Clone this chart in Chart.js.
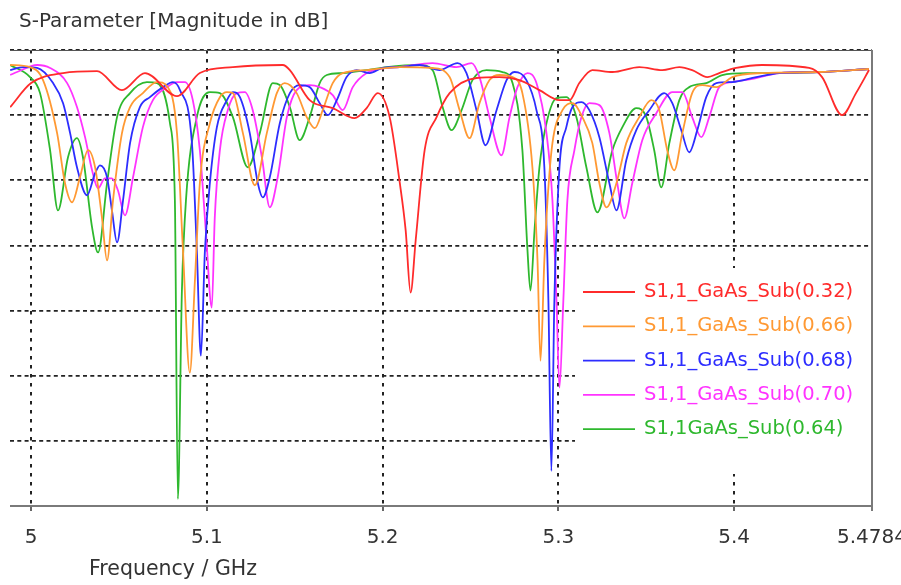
<!DOCTYPE html>
<html>
<head>
<meta charset="utf-8">
<script src="https://cdn.jsdelivr.net/npm/chart.js@4.4.1/dist/chart.umd.min.js"></script>
<style>
  html, body { margin: 0; padding: 0; background: #fff; }
  #wrap { width: 901px; height: 585px; position: relative; }
</style>
</head>
<body>
<div id="wrap"><canvas id="chart" width="901" height="585"></canvas></div>
<script>
// ---- Data : frequency in GHz, S11 in dB ----
const xTicks = [5, 5.1, 5.2, 5.3, 5.4, 5.4784];
const seriesLabels = [
  'S1,1_GaAs_Sub(0.32)',
  'S1,1_GaAs_Sub(0.66)',
  'S1,1_GaAs_Sub(0.68)',
  'S1,1_GaAs_Sub(0.70)',
  'S1,1GaAs_Sub(0.64)'
];
const seriesColors = ['#ff2b2b', '#ff9933', '#2d2dff', '#ff33ff', '#2eb82e'];

const freq032 = [4.9881, 5.0, 5.0182, 5.0375, 5.0517, 5.0648, 5.0830, 5.0960, 5.1148, 5.1432, 5.1472, 5.1585, 5.1716, 5.1841, 5.1909, 5.1972, 5.2040, 5.2097, 5.2131, 5.2159, 5.2188, 5.2239, 5.2307, 5.2381, 5.2534, 5.2665, 5.2778, 5.2892, 5.3006, 5.3063, 5.3119, 5.3193, 5.3307, 5.3460, 5.3591, 5.3688, 5.3761, 5.3847, 5.3915, 5.4011, 5.4159, 5.4426, 5.4500, 5.4614, 5.4693, 5.4767];
const db032 = [-4.38, -2.54, -1.77, -1.62, -3.08, -1.77, -3.54, -1.77, -1.31, -1.15, -1.54, -3.85, -4.46, -5.23, -4.46, -3.31, -5.15, -10.15, -13.85, -18.62, -14.6, -7.69, -5.15, -3.31, -2.15, -2.08, -2.31, -3.08, -3.85, -3.85, -2.54, -1.54, -1.69, -1.31, -1.54, -1.31, -1.54, -2.08, -1.77, -1.38, -1.15, -1.38, -2.08, -5.0, -3.31, -1.54];

const freq066 = [4.9881, 4.9994, 5.0068, 5.0148, 5.0193, 5.0233, 5.0278, 5.0324, 5.0364, 5.0403, 5.0432, 5.0466, 5.0517, 5.0563, 5.0636, 5.0716, 5.0778, 5.0830, 5.0864, 5.0903, 5.0932, 5.0960, 5.1017, 5.1074, 5.1114, 5.1148, 5.1205, 5.1273, 5.1341, 5.1398, 5.1443, 5.1511, 5.1568, 5.1614, 5.1659, 5.1716, 5.1773, 5.1909, 5.2097, 5.2284, 5.2381, 5.2438, 5.2494, 5.2551, 5.2608, 5.2665, 5.2739, 5.2795, 5.2852, 5.2881, 5.2898, 5.2920, 5.2938, 5.2966, 5.3023, 5.3080, 5.3136, 5.3193, 5.3233, 5.3273, 5.3330, 5.3386, 5.3460, 5.3528, 5.3574, 5.3619, 5.3659, 5.3705, 5.3761, 5.3818, 5.3898, 5.3989, 5.4159, 5.4483, 5.4767];
const db066 = [-1.15, -1.31, -2.31, -6.38, -10.23, -11.69, -9.77, -7.69, -9.0, -12.85, -16.15, -11.54, -6.38, -4.38, -3.31, -2.46, -2.85, -6.38, -15.38, -24.77, -17.69, -10.23, -5.62, -3.62, -3.23, -3.31, -6.38, -10.38, -6.38, -3.31, -2.54, -3.31, -5.15, -6.0, -4.62, -2.54, -1.77, -1.54, -1.31, -1.38, -2.08, -4.62, -6.77, -4.08, -2.31, -1.92, -2.08, -3.31, -9.0, -16.15, -23.85, -16.15, -11.54, -7.15, -4.62, -4.08, -5.15, -7.15, -10.23, -12.08, -10.23, -7.15, -5.15, -3.85, -4.62, -7.69, -9.23, -6.38, -3.31, -2.69, -2.85, -2.08, -1.77, -1.69, -1.46];

const freq068 = [4.9881, 4.9955, 5.0034, 5.0125, 5.0182, 5.0222, 5.0261, 5.0318, 5.0364, 5.0392, 5.0432, 5.0460, 5.0489, 5.0523, 5.0563, 5.0619, 5.0676, 5.0750, 5.0807, 5.0847, 5.0915, 5.0943, 5.0966, 5.0989, 5.1017, 5.1057, 5.1114, 5.1148, 5.1188, 5.1244, 5.1290, 5.1318, 5.1358, 5.1415, 5.1472, 5.1528, 5.1585, 5.1642, 5.1688, 5.1739, 5.1795, 5.1852, 5.1926, 5.2000, 5.2097, 5.2210, 5.2324, 5.2426, 5.2477, 5.2534, 5.2585, 5.2648, 5.2705, 5.2750, 5.2818, 5.2875, 5.2920, 5.2943, 5.2960, 5.2977, 5.3006, 5.3045, 5.3080, 5.3131, 5.3176, 5.3233, 5.3290, 5.3330, 5.3386, 5.3443, 5.3517, 5.3602, 5.3648, 5.3699, 5.3744, 5.3790, 5.3841, 5.3898, 5.3989, 5.4125, 5.4256, 5.4483, 5.4767];
const db068 = [-1.54, -1.31, -1.38, -2.54, -4.08, -6.38, -9.0, -11.15, -9.46, -8.85, -9.77, -12.31, -14.77, -11.54, -7.15, -4.38, -3.62, -2.85, -2.46, -3.08, -7.15, -15.38, -23.46, -15.38, -10.23, -5.92, -3.85, -3.23, -3.62, -6.38, -10.23, -11.31, -9.77, -5.62, -3.31, -2.69, -2.85, -4.08, -5.0, -3.85, -2.08, -1.54, -1.77, -1.38, -1.31, -1.15, -1.54, -1.0, -1.77, -4.62, -7.31, -4.62, -2.31, -1.69, -2.31, -4.62, -9.0, -19.23, -32.31, -19.23, -9.0, -5.92, -4.38, -4.0, -4.62, -6.69, -10.23, -12.31, -8.46, -6.15, -4.62, -3.31, -4.08, -6.15, -7.85, -6.15, -3.62, -2.54, -2.46, -2.08, -1.77, -1.69, -1.46];

const freq070 = [4.9881, 4.9920, 5.0034, 5.0108, 5.0205, 5.0261, 5.0307, 5.0347, 5.0381, 5.0420, 5.0460, 5.0494, 5.0534, 5.0580, 5.0636, 5.0693, 5.0773, 5.0830, 5.0875, 5.0920, 5.0960, 5.0994, 5.1028, 5.1045, 5.1074, 5.1119, 5.1170, 5.1216, 5.1261, 5.1313, 5.1358, 5.1403, 5.1455, 5.1511, 5.1585, 5.1642, 5.1716, 5.1773, 5.1830, 5.1909, 5.2023, 5.2097, 5.2284, 5.2420, 5.2506, 5.2551, 5.2608, 5.2676, 5.2722, 5.2767, 5.2824, 5.2875, 5.2932, 5.2966, 5.2989, 5.3006, 5.3028, 5.3051, 5.3091, 5.3131, 5.3176, 5.3233, 5.3290, 5.3335, 5.3375, 5.3420, 5.3477, 5.3557, 5.3648, 5.3705, 5.3761, 5.3813, 5.3858, 5.3915, 5.3989, 5.4125, 5.4256, 5.4483, 5.4767];
const db070 = [-1.92, -1.69, -1.15, -1.38, -2.54, -4.38, -6.69, -9.23, -10.62, -9.85, -9.85, -10.77, -12.69, -9.77, -5.92, -3.85, -2.85, -2.46, -2.46, -3.85, -7.69, -13.85, -19.77, -12.85, -7.69, -4.62, -3.31, -3.23, -4.62, -8.23, -12.08, -9.77, -5.15, -3.08, -2.69, -2.85, -3.46, -4.62, -2.85, -1.77, -1.38, -1.31, -1.0, -1.31, -1.0, -2.08, -5.15, -8.08, -5.15, -2.85, -1.77, -2.54, -6.38, -11.54, -19.23, -25.92, -19.23, -11.54, -7.69, -5.15, -4.08, -4.23, -6.38, -10.23, -12.92, -10.23, -6.92, -4.85, -3.23, -3.23, -5.15, -6.69, -5.15, -2.85, -2.46, -2.15, -1.77, -1.69, -1.46];

const freq064 = [4.9881, 4.9994, 5.0051, 5.0108, 5.0153, 5.0210, 5.0261, 5.0295, 5.0347, 5.0381, 5.0432, 5.0489, 5.0563, 5.0659, 5.0716, 5.0790, 5.0818, 5.0835, 5.0858, 5.0881, 5.0943, 5.1017, 5.1074, 5.1148, 5.1233, 5.1301, 5.1375, 5.1415, 5.1472, 5.1528, 5.1585, 5.1642, 5.1682, 5.1773, 5.1909, 5.2023, 5.2210, 5.2284, 5.2341, 5.2392, 5.2449, 5.2511, 5.2591, 5.2682, 5.2739, 5.2795, 5.2824, 5.2841, 5.2864, 5.2892, 5.2932, 5.2989, 5.3045, 5.3102, 5.3159, 5.3222, 5.3307, 5.3364, 5.3443, 5.3500, 5.3545, 5.3585, 5.3631, 5.3688, 5.3744, 5.3841, 5.3932, 5.4068, 5.4256, 5.4483, 5.4767];
const db064 = [-1.15, -2.08, -3.31, -7.69, -12.31, -8.23, -6.77, -8.23, -13.62, -15.54, -10.23, -5.15, -3.31, -2.46, -2.54, -5.62, -11.54, -34.46, -18.46, -11.54, -5.15, -3.23, -3.31, -5.15, -9.0, -6.38, -2.54, -2.69, -4.38, -6.92, -5.15, -2.54, -1.92, -1.77, -1.54, -1.31, -1.15, -1.54, -4.38, -6.15, -4.62, -2.31, -1.54, -1.69, -2.54, -7.69, -15.38, -18.46, -13.85, -9.0, -5.62, -3.69, -3.62, -5.15, -9.0, -12.46, -7.69, -5.92, -4.46, -5.15, -7.69, -10.54, -7.15, -3.85, -2.85, -2.54, -1.92, -1.77, -1.77, -1.69, -1.46];

const seriesFreqs = [freq032, freq066, freq068, freq070, freq064];
const seriesDbs = [db032, db066, db068, db070, db064];

const Y_MIN = -35, Y_MAX = 0, Y_STEP = 5;
const X_MIN = 4.988, X_MAX = 5.4784;

const FONT = '"DejaVu Sans", Verdana, sans-serif';

function toPoints(fs, ds) {
  return fs.map((f, i) => ({ x: f, y: ds[i] }));
}

function fmtTick(v) {
  return String(Math.round(v * 10000) / 10000);
}

// titre, labels, cadre et légende dessinés par-dessus
const decor = {
  id: 'decor',
  afterDraw(chart) {
    const { ctx, chartArea: a, scales: { x } } = chart;
    ctx.save();

    // cadre
    ctx.strokeStyle = '#555';
    ctx.lineWidth = 1;
    ctx.beginPath();
    ctx.moveTo(a.left, a.top + 0.5);
    ctx.lineTo(a.right, a.top + 0.5);
    ctx.stroke();
    ctx.strokeStyle = '#7a7a7a';
    ctx.lineWidth = 2;
    ctx.beginPath();
    ctx.moveTo(a.right, a.top);
    ctx.lineTo(a.right, a.bottom + 5);
    ctx.moveTo(a.left, a.bottom);
    ctx.lineTo(a.right + 1, a.bottom);
    ctx.stroke();

    // légende
    ctx.fillStyle = '#fff';
    ctx.fillRect(575, 268, a.right - 576, 206);
    ctx.font = '19.5px ' + FONT;
    ctx.textBaseline = 'middle';
    ctx.textAlign = 'left';
    seriesLabels.forEach((lbl, i) => {
      const yy = 292 + i * 34.3;
      ctx.strokeStyle = seriesColors[i];
      ctx.lineWidth = 1.8;
      ctx.beginPath();
      ctx.moveTo(583, yy);
      ctx.lineTo(635, yy);
      ctx.stroke();
      ctx.fillStyle = seriesColors[i];
      ctx.fillText(lbl, 644, yy);
    });

    // titre
    ctx.fillStyle = '#333';
    ctx.font = '20px ' + FONT;
    ctx.fillText('S-Parameter [Magnitude in dB]', 19, 22);

    // graduations X
    ctx.textAlign = 'center';
    ctx.font = '20px ' + FONT;
    xTicks.forEach(v => ctx.fillText(fmtTick(v), x.getPixelForValue(v), 538));
    ctx.font = '20.5px ' + FONT;
    ctx.fillText('Frequency / GHz', 173, 570);

    ctx.restore();
  }
};

new Chart(document.getElementById('chart'), {
  type: 'line',
  data: {
    datasets: seriesLabels.map((lbl, i) => ({
      label: lbl,
      data: toPoints(seriesFreqs[i], seriesDbs[i]),
      borderColor: seriesColors[i],
      borderWidth: 1.8,
      pointRadius: 0,
      cubicInterpolationMode: 'monotone',
      fill: false
    }))
  },
  options: {
    responsive: false,
    animation: false,
    layout: { padding: { left: 10, top: 50, right: 29, bottom: 74 } },
    plugins: { legend: { display: false }, tooltip: { enabled: false } },
    scales: {
      x: {
        type: 'linear',
        min: X_MIN,
        max: X_MAX,
        afterBuildTicks: s => { s.ticks = xTicks.map(v => ({ value: v })); },
        afterFit: s => { s.height = 5; },
        ticks: { display: false },
        grid: {
          color: '#222',
          lineWidth: 2,
          drawTicks: true,
          tickLength: 5,
          tickColor: '#666',
          tickWidth: 2,
          tickBorderDash: []
        },
        border: { display: false, dash: [3.5, 5.5] }
      },
      y: {
        min: Y_MIN,
        max: Y_MAX,
        afterFit: s => { s.width = 0; },
        ticks: { display: false, stepSize: Y_STEP },
        grid: {
          color: '#222',
          lineWidth: 1.8,
          drawTicks: false
        },
        border: { display: false, dash: [4, 3.3] }
      }
    }
  },
  plugins: [decor]
});
</script>
</body>
</html>
